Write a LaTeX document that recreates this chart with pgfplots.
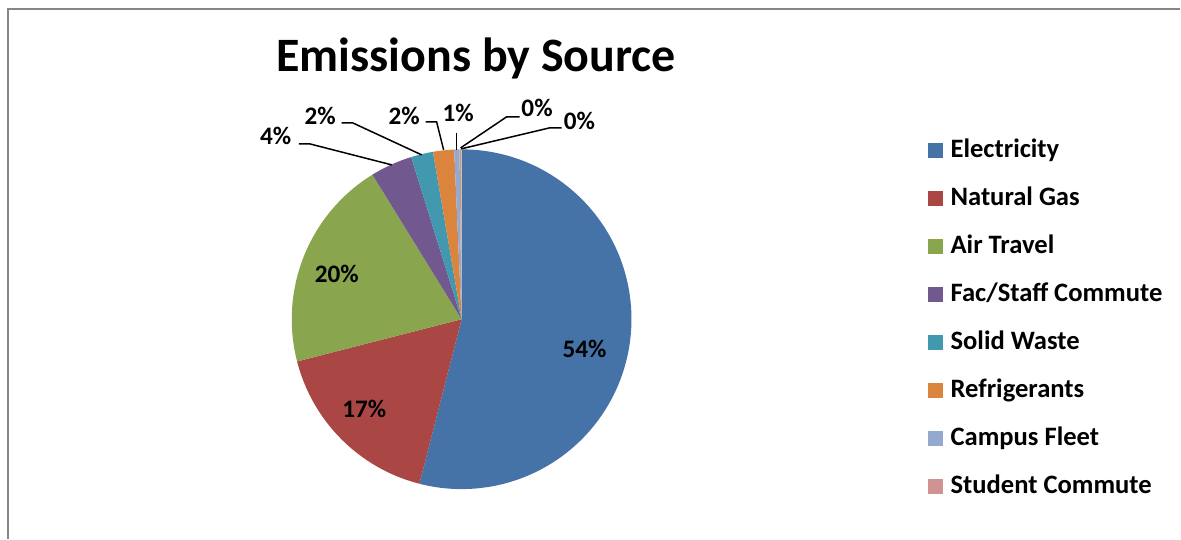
\documentclass[border=0pt]{standalone}
\usepackage{fontspec}
\setmainfont{Carlito}
\usepackage{pgfplots}
\usepackage{pgfplotstable}
\pgfplotsset{compat=1.18}

\definecolor{slicecolor0}{HTML}{4572A7}
\definecolor{slicecolor1}{HTML}{AA4643}
\definecolor{slicecolor2}{HTML}{89A54E}
\definecolor{slicecolor3}{HTML}{71588F}
\definecolor{slicecolor4}{HTML}{4198AF}
\definecolor{slicecolor5}{HTML}{DB843D}
\definecolor{slicecolor6}{HTML}{93A9CF}
\definecolor{slicecolor7}{HTML}{D19392}
\definecolor{slicecolor8}{HTML}{B9CD96}
\definecolor{framegray}{RGB}{134,134,134}

% share of emissions by source, in percent
\pgfplotstableread[col sep=comma]{
source,pct
Electricity,54.0
Natural Gas,17.0
Air Travel,20.2
Fac/Staff Commute,4.0
Solid Waste,2.1
Refrigerants,2.0
Campus Fleet,0.5
Student Commute,0.15
Other,0.05
}\emissions

% start and end angle of each slice, clockwise from the top
\def\cumang{90}
\pgfplotsforeachungrouped \i in {0,...,8}{%
  \pgfplotstablegetelem{\i}{pct}\of\emissions
  \pgfmathsetmacro\sliceang{\pgfplotsretval*3.6}%
  \expandafter\xdef\csname sa\i\endcsname{\cumang}%
  \pgfmathsetmacro\cumang{\cumang-\sliceang}%
  \expandafter\xdef\csname ea\i\endcsname{\cumang}%
}

\tikzset{
  lbl/.style={font=\fontsize{12.6}{15}\selectfont\bfseries, inner sep=0pt, anchor=base},
  leg/.style={font=\fontsize{13.3}{16}\selectfont\bfseries, inner sep=0pt, anchor=base west},
  leader/.style={black, line width=0.75pt},
}

\begin{document}
\begin{tikzpicture}
\begin{axis}[
  scale only axis,
  width=590.5pt, height=269.5pt,
  xmin=0, xmax=1181, ymin=0, ymax=539,
  hide axis, clip=false,
]
\path (axis cs:0,0) rectangle (axis cs:1181,539);
% frame
\draw[framegray, line width=1pt] (axis cs:8.2,0) -- (axis cs:8.2,529.5) -- (axis cs:1181,529.5);

% slices
\pgfplotsinvokeforeach{0,...,8}{
  \fill[slicecolor#1] (axis cs:462,219.5) -- ++(\csname sa#1\endcsname:85pt)
    arc[start angle=\csname sa#1\endcsname, end angle=\csname ea#1\endcsname, radius=85pt] -- cycle;
}

% title
\node[font=\fontsize{24}{28}\selectfont\bfseries, inner sep=0pt, anchor=base] at (axis cs:476.5,467) {Emissions by Source};

% data labels
\node[lbl] at (axis cs:585,181) {54\%};
\node[lbl] at (axis cs:364.5,121) {17\%};
\node[lbl] at (axis cs:337,256) {20\%};
\node[lbl] at (axis cs:276,394) {4\%};
\node[lbl] at (axis cs:320.5,414) {2\%};
\node[lbl] at (axis cs:404.5,414) {2\%};
\node[lbl] at (axis cs:458.5,417) {1\%};
\node[lbl] at (axis cs:537.5,422) {0\%};
\node[lbl] at (axis cs:580,409) {0\%};

% leader lines
\draw[leader] (axis cs:299,395) -- (axis cs:310,395) -- (axis cs:392,374);
\draw[leader] (axis cs:342,416) -- (axis cs:353,416) -- (axis cs:422,384);
\draw[leader] (axis cs:426,417) -- (axis cs:437,417) -- (axis cs:444,389);
\draw[leader] (axis cs:457,406) -- (axis cs:457,389);
\draw[leader] (axis cs:520,422) -- (axis cs:507,422) -- (axis cs:461,391);
\draw[leader] (axis cs:562,411) -- (axis cs:550,411) -- (axis cs:461.5,390);

% legend
\pgfplotsinvokeforeach{0,...,7}{
  \fill[slicecolor#1] (axis cs:929,{539-151-48*#1-7.5}) rectangle (axis cs:944,{539-151-48*#1+7.5});
}
\node[leg] at (axis cs:951,381) {Electricity};
\node[leg] at (axis cs:951,333) {Natural Gas};
\node[leg] at (axis cs:951,285) {Air Travel};
\node[leg] at (axis cs:951,237) {Fac/Staff Commute};
\node[leg] at (axis cs:951,189) {Solid Waste};
\node[leg] at (axis cs:951,141) {Refrigerants};
\node[leg] at (axis cs:951,93) {Campus Fleet};
\node[leg] at (axis cs:951,45) {Student Commute};
\end{axis}
\end{tikzpicture}
\end{document}
